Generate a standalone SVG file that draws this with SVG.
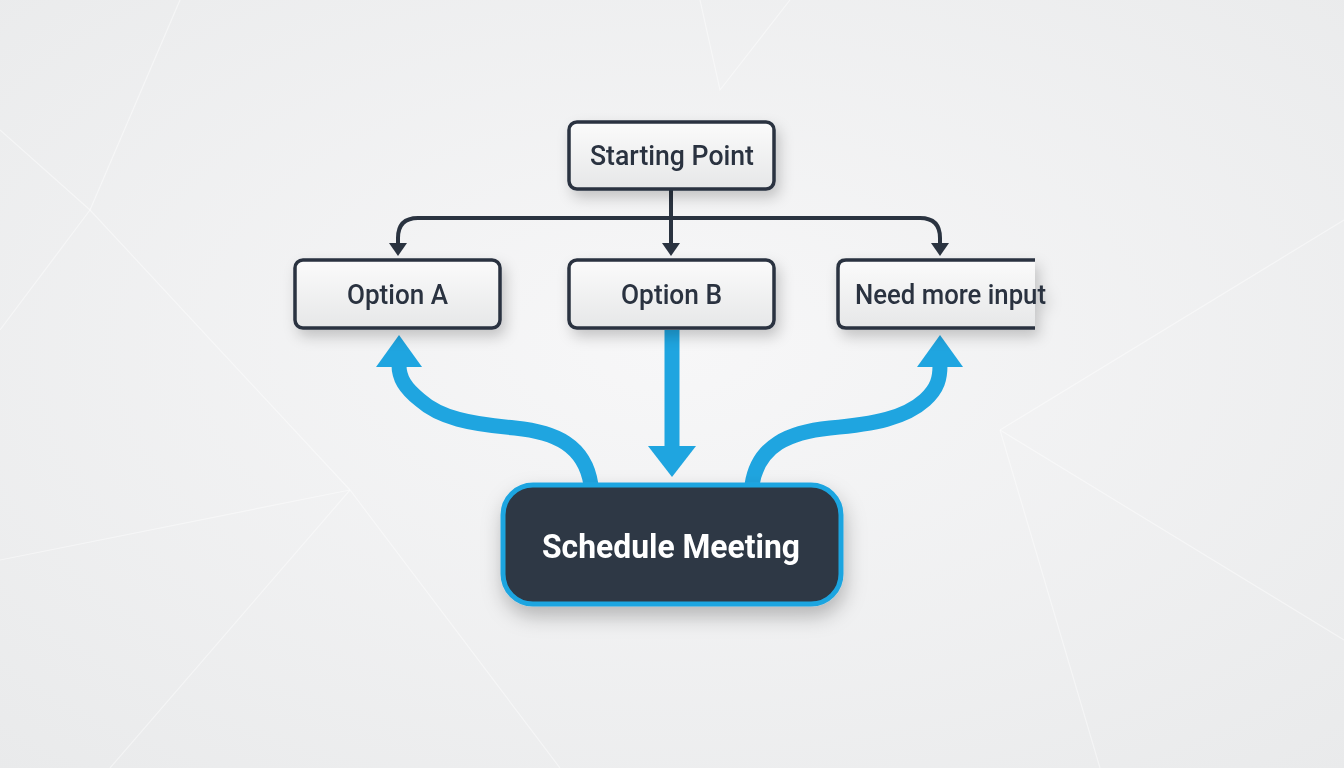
<svg xmlns="http://www.w3.org/2000/svg" width="1344" height="768" viewBox="0 0 1344 768">
<defs>
<radialGradient id="bg" cx="0.5" cy="0.45" r="0.75">
<stop offset="0" stop-color="#f7f7f8"/>
<stop offset="1" stop-color="#e9eaeb"/>
</radialGradient>
<linearGradient id="boxfill" x1="0" y1="0" x2="0" y2="1">
<stop offset="0" stop-color="#fbfbfb"/>
<stop offset="1" stop-color="#e6e7e8"/>
</linearGradient>
<filter id="shadow" x="-20%" y="-30%" width="140%" height="170%">
<feDropShadow dx="4" dy="7" stdDeviation="7" flood-color="#000" flood-opacity="0.2"/>
</filter>
<filter id="shadow2" x="-20%" y="-30%" width="140%" height="170%">
<feDropShadow dx="2" dy="10" stdDeviation="10" flood-color="#000" flood-opacity="0.25"/>
</filter>
</defs>
<style>
.box{fill:url(#boxfill);stroke:#2a3340;stroke-width:3.5}
.lbl{font-family:Roboto,"Liberation Sans",sans-serif;font-size:27px;font-weight:500;fill:#2a3340;text-anchor:middle}
.dark{stroke:#2a3340;stroke-width:4;fill:none;stroke-linecap:round;stroke-linejoin:round}
.dhead{fill:#2a3340}
.blue{stroke:#1fa5e0;stroke-width:15;fill:none}
.bhead{fill:#1fa5e0}
.bgline{stroke:#ffffff;stroke-width:1.2;opacity:0.45;fill:none}
</style>
<rect width="1344" height="768" fill="url(#bg)"/>
<g id="background-lines">
<path class="bgline" d="M0,130 L90,210 L350,490 L560,768"/>
<path class="bgline" d="M90,210 L180,0"/>
<path class="bgline" d="M0,330 L90,210"/>
<path class="bgline" d="M350,490 L110,768"/>
<path class="bgline" d="M350,490 L0,560"/>
<path class="bgline" d="M700,0 L720,90 L790,0"/>
<path class="bgline" d="M1000,430 L1344,220"/>
<path class="bgline" d="M1000,430 L1344,640"/>
<path class="bgline" d="M1000,430 L1100,768"/>
</g>
<g id="connectors">
<path class="dark" d="M671,190 L671,244"/>
<path class="dhead" d="M662,243 L680,243 L671,256 Z"/>
<path class="dark" d="M671,218 L418,218 Q398,218 398,238 L398,244"/>
<path class="dhead" d="M389,243 L407,243 L398,256 Z"/>
<path class="dark" d="M671,218 L920,218 Q940,218 940,238 L940,244"/>
<path class="dhead" d="M931,243 L949,243 L940,256 Z"/>
<path class="blue" d="M591,485 C585,445 555,432 515,428 C470,424 440,418 420,400 C405,388 399,378 399,365"/>
<path class="bhead" d="M376,367 L422,367 L399,335 Z"/>
<path class="blue" d="M672,330 L672,448" stroke-width="17"/>
<path class="bhead" d="M648,446 L696,446 L672,477 Z"/>
<path class="blue" d="M752,485 C758,445 790,432 830,428 C875,424 905,418 925,400 C938,388 940,378 940,365"/>
<path class="bhead" d="M917,367 L963,367 L940,335 Z"/>
</g>
<g id="node-start" filter="url(#shadow)">
<rect class="box" x="569" y="122" width="205" height="67" rx="8"/>
<text class="lbl" x="672" y="165" textLength="164" lengthAdjust="spacingAndGlyphs">Starting Point</text>
</g>
<g id="node-optionA" filter="url(#shadow)">
<rect class="box" x="295" y="260" width="205" height="68" rx="8"/>
<text class="lbl" x="397.5" y="304" textLength="101" lengthAdjust="spacingAndGlyphs">Option A</text>
</g>
<g id="node-optionB" filter="url(#shadow)">
<rect class="box" x="569" y="260" width="205" height="68" rx="8"/>
<text class="lbl" x="671.5" y="304" textLength="101" lengthAdjust="spacingAndGlyphs">Option B</text>
</g>
<g id="node-needinput" filter="url(#shadow)">
<path d="M1035,260 L846,260 Q838,260 838,268 L838,320 Q838,328 846,328 L1035,328 Z" fill="url(#boxfill)"/>
<path d="M1035,260 L846,260 Q838,260 838,268 L838,320 Q838,328 846,328 L1035,328" fill="none" stroke="#2a3340" stroke-width="3.5"/>
<text class="lbl" x="950.5" y="304" textLength="191" lengthAdjust="spacingAndGlyphs">Need more input</text>
</g>
<g id="node-schedule" filter="url(#shadow2)">
<rect x="503" y="485" width="338" height="119" rx="30" fill="#2d3845" stroke="#1fa5e0" stroke-width="5"/>
<text x="671" y="558" font-family="Roboto,'Liberation Sans',sans-serif" font-size="33" font-weight="700" fill="#ffffff" text-anchor="middle" textLength="258" lengthAdjust="spacingAndGlyphs">Schedule Meeting</text>
</g>
</svg>
